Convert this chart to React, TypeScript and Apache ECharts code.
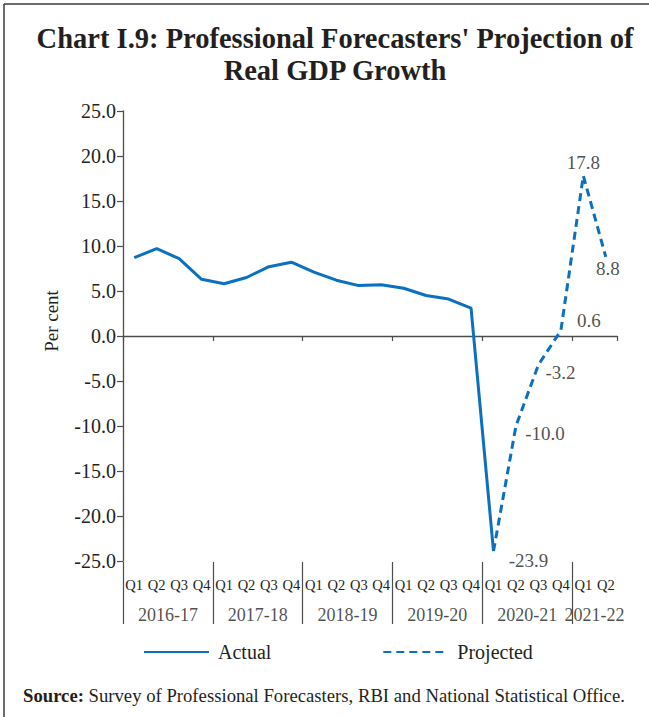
import React, { useEffect, useRef } from "react";
import * as echarts from "echarts";

// ---- data ----
const fiscalYears = ["2016-17", "2017-18", "2018-19", "2019-20", "2020-21", "2021-22"];
const quartersPerYear = [4, 4, 4, 4, 4, 2];
const quarterNames = ["Q1", "Q2", "Q3", "Q4"];
const actualGrowth = [8.7, 9.7, 8.6, 6.3, 5.8, 6.5, 7.7, 8.2, 7.1, 6.2, 5.6, 5.7, 5.3, 4.5, 4.1, 3.1, -23.9];
const projectedGrowth = [-23.9, -10.0, -3.2, 0.6, 17.8, 8.8];
const projectionStartIndex = 16;
const yMin = -25;
const yMax = 25;
const yInterval = 5;

const titleText = "Chart I.9: Professional Forecasters' Projection of\nReal GDP Growth";
const sourceText = "Survey of Professional Forecasters, RBI and National Statistical Office.";

// ---- derived ----
const categories: string[] = [];
const quarterLabels: string[] = [];
fiscalYears.forEach((fy, i) => {
  for (let q = 0; q < quartersPerYear[i]; q++) {
    categories.push(fy + " " + quarterNames[q]);
    quarterLabels.push(quarterNames[q]);
  }
});
const nCat = categories.length;
const actualSeries = categories.map((_, i) => (i < actualGrowth.length ? actualGrowth[i] : null));
const projectedSeries = categories.map((_, i) =>
  i >= projectionStartIndex && i - projectionStartIndex < projectedGrowth.length
    ? projectedGrowth[i - projectionStartIndex]
    : null
);
const groupStarts: number[] = [];
const groupCentres: number[] = [];
{
  let s = 0;
  quartersPerYear.forEach((n) => {
    groupStarts.push(s);
    groupCentres.push(s + n / 2);
    s += n;
  });
}

// ---- style ----
const FONT = "Liberation Serif";
const INK = "#231f20";
const AXIS = "#4d4d4d";
const BLUE = "#0a70bf";
const labelOffsets: [number, number][] = [
  [35, 9],
  [29, 7],
  [22, 8],
  [28, -10],
  [0, -13],
  [2, 12],
];

export default function App() {
  const ref = useRef<HTMLDivElement>(null);
  useEffect(() => {
    if (!ref.current) return;
    const chart = echarts.init(ref.current, undefined, { renderer: "svg" });
    const option: any = {
      animation: false,
      backgroundColor: "#ffffff",
      textStyle: { fontFamily: FONT, color: INK },
      title: {
        text: titleText,
        left: 330,
        top: 17,
        textAlign: "center",
        textStyle: { fontFamily: FONT, fontSize: 28.5, fontWeight: "bold", color: INK, lineHeight: 32 },
      },
      legend: {
        data: ["Actual", "Projected"],
        left: 143,
        top: 642,
        padding: 0,
        itemWidth: 65,
        itemHeight: 14,
        itemGap: 111,
        itemStyle: { color: "rgba(0,0,0,0)", borderWidth: 0, opacity: 0 },
        textStyle: { fontFamily: FONT, fontSize: 20, color: INK, padding: [0, 0, 0, 4] },
      },
      grid: [
        { left: 123, top: 111, width: 494, height: 450, containLabel: false },
        { left: 123, top: 562, width: 494, height: 62, containLabel: false },
      ],
      xAxis: [
        {
          type: "category",
          gridIndex: 0,
          data: categories,
          boundaryGap: true,
          axisLine: { show: true, onZero: true, lineStyle: { color: AXIS, width: 1.3 } },
          axisTick: { show: true, length: 5, lineStyle: { color: AXIS, width: 1.2 } },
          axisLabel: { show: false },
          splitLine: { show: false },
        },
        {
          type: "category",
          gridIndex: 1,
          position: "top",
          data: quarterLabels,
          boundaryGap: true,
          axisLine: { show: false },
          axisTick: { show: false },
          axisLabel: {
            show: true,
            inside: true,
            margin: 15,
            interval: 0,
            fontFamily: FONT,
            fontSize: 14.5,
            color: INK,
          },
          splitLine: { show: false },
        },
        {
          type: "value",
          gridIndex: 1,
          position: "bottom",
          min: 0,
          max: nCat,
          show: false,
        },
      ],
      yAxis: [
        {
          type: "value",
          gridIndex: 0,
          min: yMin,
          max: yMax,
          interval: yInterval,
          name: "Per cent",
          nameLocation: "middle",
          nameGap: 62,
          nameRotate: 90,
          nameTextStyle: { fontFamily: FONT, fontSize: 19, color: INK, padding: [0, 0, 0, 30] },
          axisLine: { show: true, onZero: false, lineStyle: { color: AXIS, width: 1.3 } },
          axisTick: { show: true, length: 6, lineStyle: { color: AXIS, width: 1.2 } },
          axisLabel: {
            margin: 7,
            fontFamily: FONT,
            fontSize: 20,
            color: INK,
            formatter: (v: number) => v.toFixed(1),
          },
          splitLine: { show: false },
        },
        {
          type: "value",
          gridIndex: 1,
          show: false,
          min: 0,
          max: 1,
        },
      ],
      series: [
        {
          name: "Actual",
          type: "line",
          xAxisIndex: 0,
          yAxisIndex: 0,
          data: actualSeries,
          symbol: "none",
          connectNulls: false,
          lineStyle: { color: BLUE, width: 3 },
          itemStyle: { color: BLUE },
          z: 3,
        },
        {
          name: "Projected",
          type: "line",
          xAxisIndex: 0,
          yAxisIndex: 0,
          data: projectedSeries,
          symbol: "none",
          connectNulls: false,
          lineStyle: { color: BLUE, width: 3, type: [8, 5] },
          itemStyle: { color: BLUE },
          z: 3,
        },
        {
          name: "labels",
          type: "scatter",
          xAxisIndex: 0,
          yAxisIndex: 0,
          symbolSize: 1,
          itemStyle: { color: "rgba(0,0,0,0)" },
          silent: true,
          z: 5,
          data: projectedSeries.map((v, i) => {
            if (v === null) return null;
            const k = i - projectionStartIndex;
            return {
              value: v,
              label: {
                show: true,
                position: "inside",
                offset: labelOffsets[k] || [0, 0],
                formatter: (p: any) => Number(p.value).toFixed(1),
                fontFamily: FONT,
                fontSize: 19,
                color: INK,
              },
            };
          }),
        },
        {
          name: "years",
          type: "scatter",
          xAxisIndex: 2,
          yAxisIndex: 1,
          symbolSize: 1,
          itemStyle: { color: "rgba(0,0,0,0)" },
          silent: true,
          data: fiscalYears.map((fy, k) => ({
            value: [groupCentres[k], 0],
            name: fy,
          })),
          label: {
            show: true,
            position: "top",
            distance: 0,
            formatter: (p: any) => p.name,
            fontFamily: FONT,
            fontSize: 18,
            color: INK,
          },
          markLine: {
            silent: true,
            symbol: ["none", "none"],
            label: { show: false },
            lineStyle: { color: AXIS, width: 1.2, type: "solid" },
            data: groupStarts.map((s) => ({ xAxis: s })),
          },
        },
      ],
      graphic: [
        { type: "line", shape: { x1: 4, y1: 4, x2: 649, y2: 4 }, style: { stroke: "#3a3a3a", lineWidth: 1.5 } },
        { type: "line", shape: { x1: 4, y1: 4, x2: 4, y2: 717 }, style: { stroke: "#3a3a3a", lineWidth: 1.5 } },
        {
          type: "text",
          left: 23,
          top: 686,
          style: {
            text: "{b|Source:} " + sourceText,
            fontFamily: FONT,
            fontSize: 18.7,
            fill: INK,
            rich: {
              b: { fontFamily: FONT, fontSize: 18.7, fontWeight: "bold", fill: INK },
            },
          },
        },
      ],
    };
    chart.setOption(option);
    return () => chart.dispose();
  }, []);
  return (
    <div
      ref={ref}
      style={{ position: "absolute", left: 0, top: 0, width: 649, height: 717, background: "#fff" }}
    />
  );
}
